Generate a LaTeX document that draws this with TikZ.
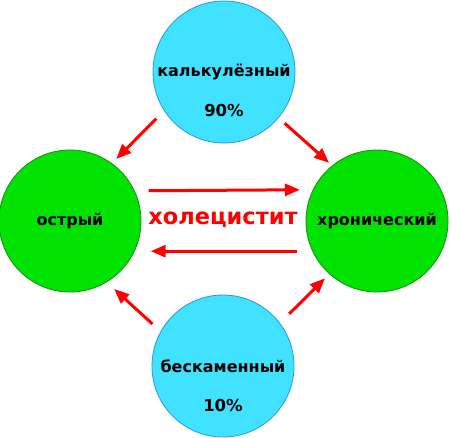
\documentclass[tikz,border=0pt]{standalone}
\usepackage{fontspec}
\setmainfont{DejaVu Sans}
\usetikzlibrary{arrows.meta}
\definecolor{cyanfill}{RGB}{64,226,255}
\definecolor{cyanline}{RGB}{40,150,230}
\definecolor{greenfill}{RGB}{0,226,0}
\definecolor{greenline}{RGB}{20,140,20}
\definecolor{arrred}{RGB}{255,0,0}
\tikzset{
  x=1pt,y=-1pt,
  bluecirc/.style={circle,draw=cyanline,fill=cyanfill,line width=0.8pt,minimum size=142pt,inner sep=0pt,font=\bfseries\fontsize{16}{18}\selectfont},
  greencirc/.style={circle,draw=greenline,fill=greenfill,line width=0.8pt,minimum size=142pt,inner sep=0pt,font=\bfseries\fontsize{16}{18}\selectfont},
  pct/.style={font=\bfseries\fontsize{16.5}{18}\selectfont,inner sep=0pt},
  conn/.style={draw=arrred,line width=3pt,-{Triangle[length=15pt,width=12pt]}},
}
\begin{document}
\begin{tikzpicture}
\useasboundingbox (0,0) rectangle (450,437);
\node[bluecirc] (top) at (224,72) {калькулёзный};
\node[pct] (p90) at (224,110) {90\%};
\node[greencirc] (left) at (70,221) {острый};
\node[greencirc] (right) at (377,221) {хронический};
\node[bluecirc] (bot) at (223,366) {бескаменный};
\node[pct] (p10) at (223,405) {10\%};
\node[font=\bfseries\fontsize{22.5}{24}\selectfont,text=arrred,inner sep=0pt] (title) at (223,220) {холецистит};
\draw[conn,shorten <=11pt,shorten >=6pt] (top.213) -- (left.54.5);
\draw[conn,shorten <=8pt,shorten >=4pt] (top.-40) -- (right.129.6);
\draw[conn,shorten <=11pt,shorten >=10pt] (bot.151.6) -- (left.-59);
\draw[conn,shorten <=13pt,shorten >=6pt] (bot.37.3) -- (right.228.7);
\draw[conn,shorten <=14pt,shorten >=13pt] (left.25.9) -- (right.154.1);
\draw[conn,shorten <=15pt,shorten >=16pt] (right.205.9) -- (left.-25.9);
\end{tikzpicture}
\end{document}
